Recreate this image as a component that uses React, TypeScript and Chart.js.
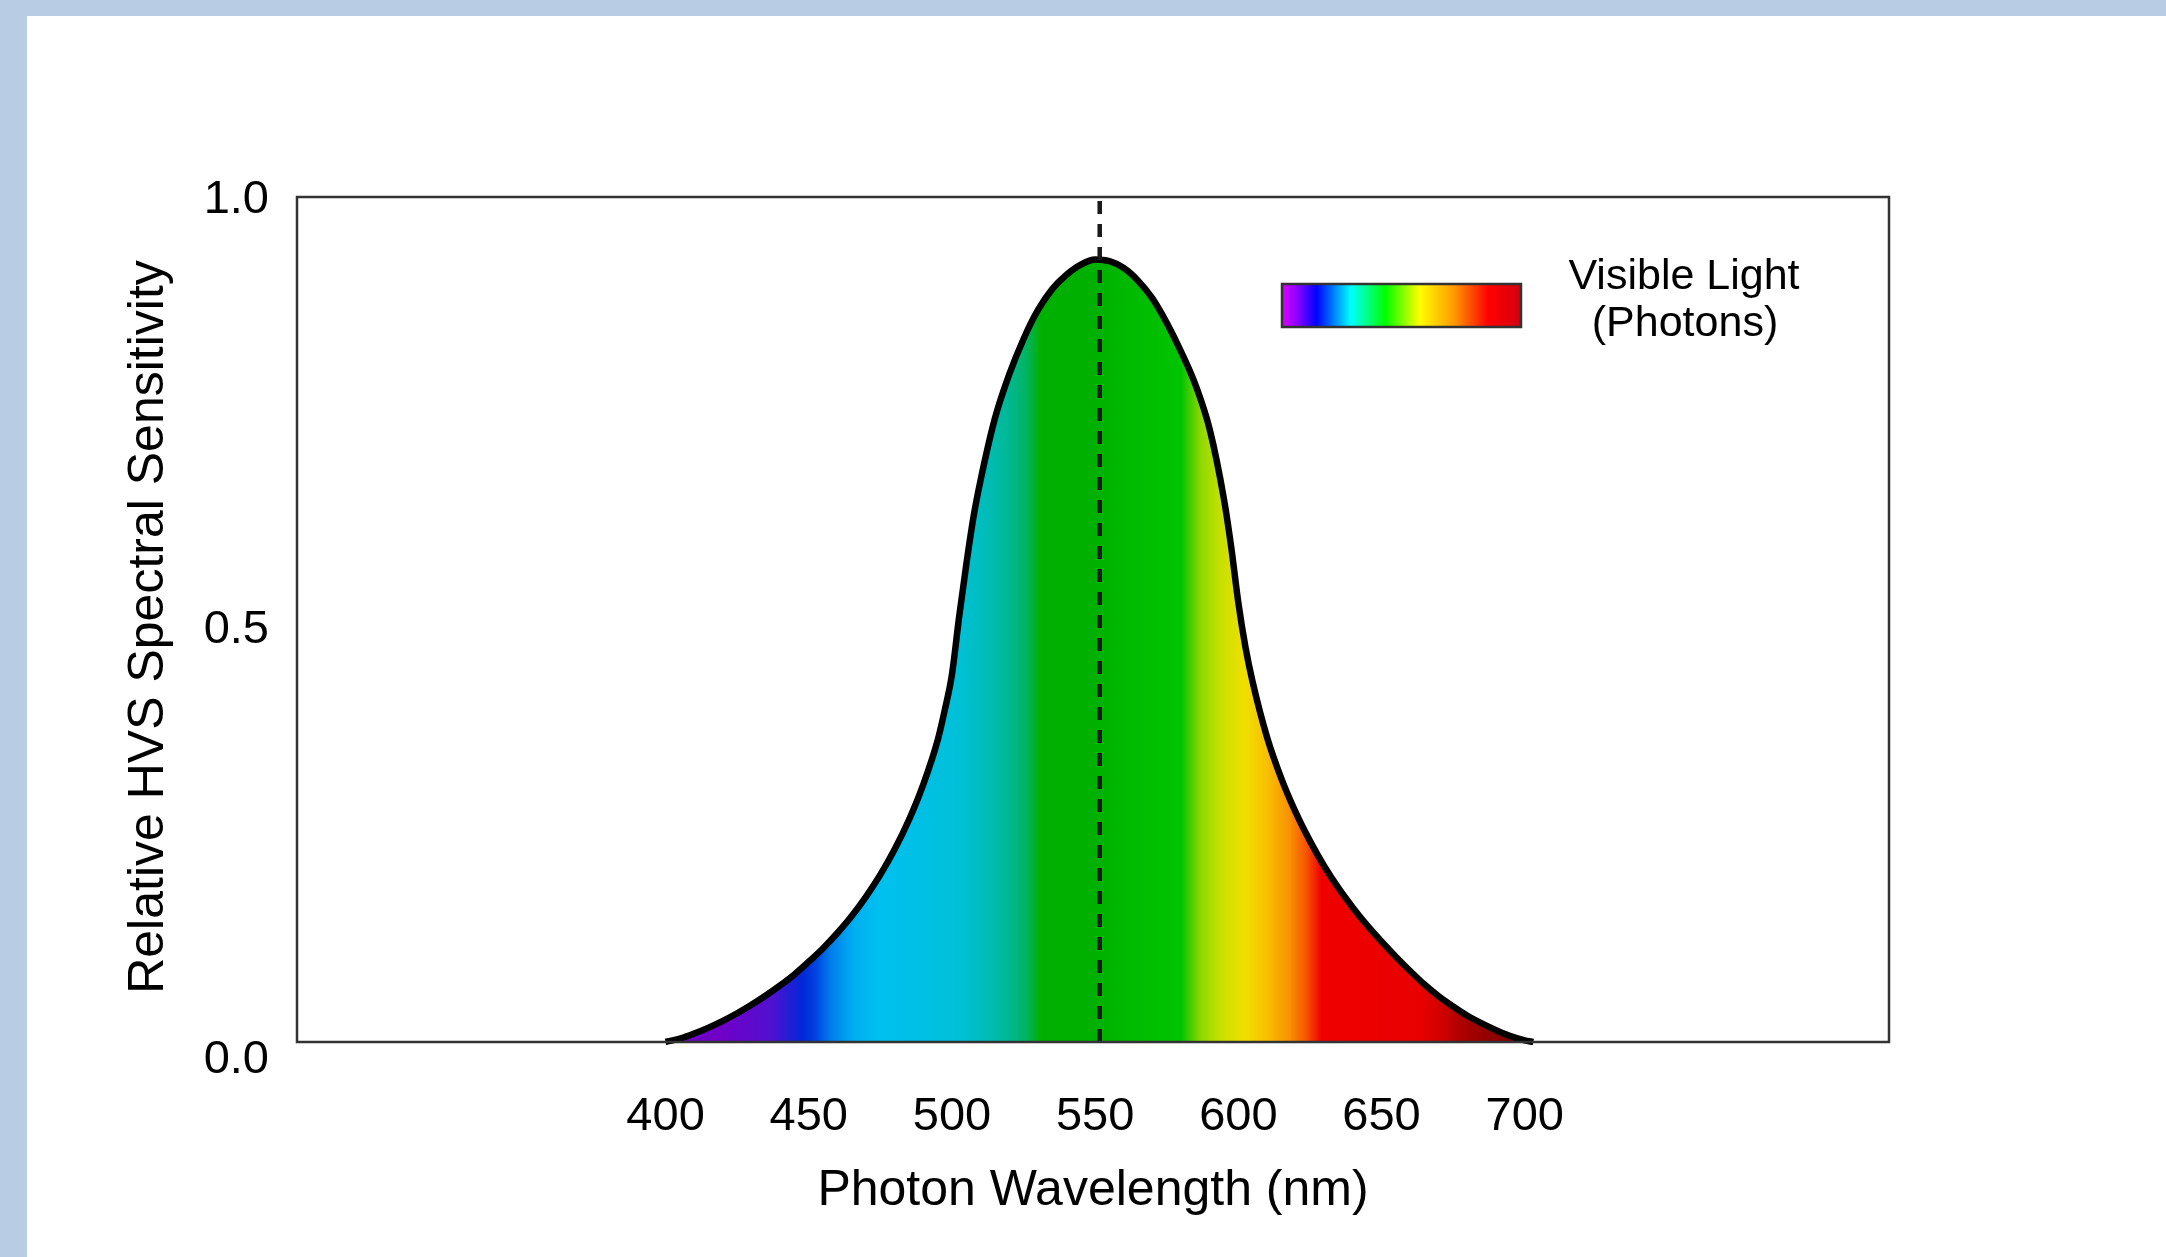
import React, { useEffect, useRef } from "react";
import { Chart, registerables } from "chart.js";

Chart.register(...registerables);

// ---- data ----
const wavelengths = [
  400, 405, 410, 415, 420, 425, 430, 435, 440, 445, 450, 455, 460, 465, 470, 475,
  480, 485, 490, 495, 497.5, 500, 502.5, 505, 507.5, 510, 515, 520, 525, 530, 535,
  540, 545, 550, 555, 560, 565, 570, 575, 580, 585, 590, 595, 597.5, 600, 602.5,
  605, 610, 615, 620, 625, 630, 635, 640, 645, 650, 655, 660, 665, 670, 675, 680,
  685, 690, 695, 700, 703,
];
const sensitivity = [
  0.0, 0.004, 0.01, 0.017, 0.025, 0.034, 0.044, 0.055, 0.067, 0.08, 0.095, 0.111,
  0.129, 0.149, 0.172, 0.198, 0.228, 0.263, 0.305, 0.357, 0.393, 0.435, 0.503, 0.565,
  0.621, 0.665, 0.738, 0.79, 0.832, 0.866, 0.891, 0.908, 0.92, 0.926, 0.924, 0.916,
  0.901, 0.88, 0.851, 0.817, 0.778, 0.725, 0.642, 0.586, 0.52, 0.467, 0.426, 0.361,
  0.312, 0.272, 0.238, 0.208, 0.182, 0.159, 0.138, 0.119, 0.101, 0.084, 0.068, 0.054,
  0.042, 0.031, 0.022, 0.014, 0.007, 0.002, 0.0,
];
const peakWavelength = 551.6;
const xTickValues = [400, 450, 500, 550, 600, 650, 700];
const yTickValues = [0, 0.5, 1.0];
const xTitle = "Photon Wavelength (nm)";
const yTitle = "Relative HVS Spectral Sensitivity";
const legendLines = ["Visible Light", "(Photons)"];

// spectrum fill colour stops (wavelength -> colour)
const fillStopNm = [
  400, 420, 437, 448, 452, 458, 466, 475, 490, 502, 512, 520, 526, 531, 550, 565,
  580, 583, 587, 594, 602, 610, 618, 624, 629, 664, 671, 677, 688, 700,
];
const fillStopColors = [
  "#6a00c0", "#7000c8", "#5010d0", "#0028d8", "#0040e0", "#0080ec", "#00b0f0",
  "#00c0f0", "#00c0e4", "#00c0d8", "#00bcb8", "#00b890", "#00b460", "#00b000",
  "#00b000", "#00bc00", "#00c400", "#40cc00", "#90d800", "#c8e000", "#f0e000",
  "#f8c000", "#f89000", "#f85000", "#f00000", "#e80000", "#d00000", "#b00000",
  "#900000", "#800000",
];
// legend bar colour stops (fraction -> colour)
const legendStopPos = [0, 0.07, 0.144, 0.288, 0.432, 0.576, 0.72, 0.864, 1];
const legendStopColors = [
  "#e000ff", "#8000ff", "#0000ff", "#00ffff", "#00ff00", "#ffff00", "#ff9900",
  "#ff0000", "#d00010",
];

const FONT = "'Liberation Sans', Arial, Helvetica, sans-serif";

const boxPlugin = {
  id: "boxPlugin",
  afterDatasetsDraw(chart: any) {
    const { ctx, chartArea } = chart;
    const yb = chart.scales.yData.getPixelForValue(0);
    ctx.save();
    ctx.strokeStyle = "#333";
    ctx.lineWidth = 2.5;
    ctx.strokeRect(chartArea.left, chartArea.top, chartArea.right - chartArea.left, yb - chartArea.top);
    ctx.restore();
  },
};

const legendPlugin = {
  id: "spectrumLegend",
  afterDraw(chart: any) {
    const ctx = chart.ctx;
    const x0 = 1255, y0 = 268, w = 239, h = 43;
    ctx.save();
    const g = ctx.createLinearGradient(x0, 0, x0 + w, 0);
    legendStopPos.forEach((p, i) => g.addColorStop(p, legendStopColors[i]));
    ctx.fillStyle = g;
    ctx.fillRect(x0, y0, w, h);
    ctx.strokeStyle = "#333";
    ctx.lineWidth = 2.5;
    ctx.strokeRect(x0, y0, w, h);
    ctx.fillStyle = "#000";
    ctx.font = `43px ${FONT}`;
    ctx.textAlign = "center";
    ctx.textBaseline = "middle";
    ctx.fillText(legendLines[0], 1657, 261);
    ctx.fillText(legendLines[1], 1658, 308);
    ctx.restore();
  },
};

export default function App() {
  const ref = useRef<HTMLCanvasElement | null>(null);

  useEffect(() => {
    document.body.style.margin = "0";
    const canvas = ref.current;
    if (!canvas) return;

    const fill = (context: any) => {
      const chart = context.chart;
      const xs = chart.scales && chart.scales.x;
      if (!chart.chartArea || !xs) return "rgba(0,0,0,0)";
      const p0 = xs.getPixelForValue(400);
      const p1 = xs.getPixelForValue(700);
      const g = chart.ctx.createLinearGradient(p0, 0, p1, 0);
      fillStopNm.forEach((nm, i) => g.addColorStop((nm - 400) / 300, fillStopColors[i]));
      return g;
    };

    const chart = new Chart(canvas, {
      type: "line",
      data: {
        datasets: [
          {
            label: "peak",
            data: [
              { x: peakWavelength, y: 0 },
              { x: peakWavelength, y: 1 },
            ],
            yAxisID: "yData",
            borderColor: "#1a1a1a",
            borderWidth: 4.5,
            borderDash: [13, 10],
            pointRadius: 0,
            fill: false,
            order: 0,
          },
          {
            label: "sensitivity",
            data: wavelengths.map((w, i) => ({ x: w, y: sensitivity[i] })),
            yAxisID: "yData",
            borderColor: "#000",
            borderWidth: 6.5,
            pointRadius: 0,
            fill: "origin",
            backgroundColor: fill,
            cubicInterpolationMode: "monotone",
            order: 1,
          },
        ],
      },
      options: {
        animation: false,
        responsive: false,
        devicePixelRatio: 1,
        layout: { padding: { left: 0, top: 181, right: 277, bottom: 0 } },
        plugins: { legend: { display: false }, tooltip: { enabled: false } },
        scales: {
          x: {
            type: "linear",
            min: 271.3,
            max: 827.2,
            afterBuildTicks: (s: any) => {
              s.ticks = xTickValues.map((v) => ({ value: v }));
            },
            afterFit: (s: any) => {
              s.height = 200;
            },
            grid: { display: false },
            border: { display: false },
            ticks: {
              font: { family: FONT, size: 47 },
              color: "#000",
              padding: 24,
              maxRotation: 0,
              autoSkip: false,
              callback: (v: any) => String(v),
            },
            title: {
              display: true,
              text: xTitle,
              font: { family: FONT, size: 50 },
              color: "#000",
              padding: { top: 0, bottom: 36 },
            },
          },
          y: {
            type: "linear",
            position: "left",
            min: 0,
            max: 1,
            afterBuildTicks: (s: any) => {
              s.ticks = yTickValues.map((v) => ({ value: v }));
            },
            afterFit: (s: any) => {
              s.width = 270;
            },
            grid: { display: false },
            border: { display: false },
            ticks: {
              font: { family: FONT, size: 47 },
              color: "#000",
              padding: 20,
              labelOffset: 3,
              callback: (v: any) => Number(v).toFixed(1),
            },
            title: {
              display: true,
              text: yTitle,
              font: { family: FONT, size: 50 },
              color: "#000",
              padding: { top: 92, bottom: 0 },
            },
          },
          yData: {
            type: "linear",
            display: false,
            min: -0.01775,
            max: 1,
          },
        },
      } as any,
      plugins: [boxPlugin, legendPlugin],
    });

    return () => chart.destroy();
  }, []);

  return (
    <div style={{ width: 2166, height: 1257, background: "#b8cce4", position: "relative", overflow: "hidden" }}>
      <div style={{ position: "absolute", left: 27, top: 16, width: 2139, height: 1241, background: "#fff" }}>
        <canvas ref={ref} width={2139} height={1241} style={{ display: "block", width: 2139, height: 1241 }} />
      </div>
    </div>
  );
}
